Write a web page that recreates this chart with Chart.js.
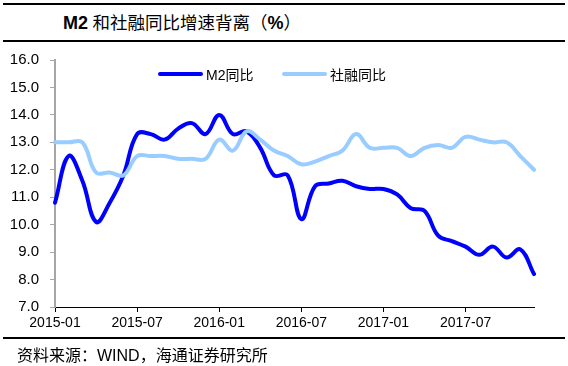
<!DOCTYPE html>
<html>
<head>
<meta charset="utf-8">
<script src="https://cdn.jsdelivr.net/npm/chart.js@4/dist/chart.umd.min.js"></script>
<style>
  html, body { margin: 0; padding: 0; background: #fff; }
  #wrap { position: relative; width: 568px; height: 366px; overflow: hidden; }
  .rule { position: absolute; left: 3px; width: 562px; height: 2px; background: #000; }
  #title { position: absolute; left: 63px; top: 10px; font-size: 17.5px; line-height: 24px; color: #000; white-space: nowrap; }
  #title .lat { font-family: "Liberation Sans", Arial, sans-serif; font-weight: bold; font-size: 18px; }
  #title .cjk { font-family: "Noto Sans CJK SC", sans-serif; font-weight: normal; }
  #source { position: absolute; left: 17px; top: 343px; font-size: 16px; line-height: 22px; color: #000; white-space: nowrap; font-family: "Noto Sans CJK SC", sans-serif; }
  #source .lat { font-family: "Liberation Sans", Arial, sans-serif; }
  #legend { position: absolute; top: 64px; left: 158px; height: 20px; font-size: 14px; line-height: 20px; white-space: nowrap; color: #000; }
  .li { position: absolute; top: 0; }
  .sw { position: absolute; top: 8px; width: 45px; height: 4px; border-radius: 2px; }
  .lt { position: absolute; left: 48px; top: 0; font-family: "Noto Sans CJK SC", sans-serif; }
  .lt .lat { font-family: "Liberation Sans", Arial, sans-serif; }
  canvas { position: absolute; left: 0; top: 0; }
</style>
</head>
<body>
<div id="wrap">
  <div class="rule" style="top:3px"></div>
  <div id="title"><span class="lat">M2</span> <span class="cjk">和社融同比增速背离（</span><span class="lat">%</span><span class="cjk">）</span></div>
  <div class="rule" style="top:40px"></div>
  <canvas id="c" width="568" height="366"></canvas>
  <div id="legend"></div>
  <div class="rule" style="top:337px"></div>
  <div id="source">资料来源：<span class="lat">WIND</span>，海通证券研究所</div>
</div>
<script>
// ---- data ----
const months = [
  '2015-01','2015-02','2015-03','2015-04','2015-05','2015-06','2015-07','2015-08','2015-09','2015-10','2015-11','2015-12',
  '2016-01','2016-02','2016-03','2016-04','2016-05','2016-06','2016-07','2016-08','2016-09','2016-10','2016-11','2016-12',
  '2017-01','2017-02','2017-03','2017-04','2017-05','2017-06','2017-07','2017-08','2017-09','2017-10','2017-11','2017-12'
];
const m2Yoy = [10.8,12.5,11.6,10.1,10.8,11.8,13.3,13.3,13.1,13.5,13.7,13.3,
               14.0,13.3,13.4,12.8,11.8,11.8,10.2,11.4,11.5,11.6,11.4,11.3,
               11.3,11.1,10.6,10.5,9.6,9.4,9.2,8.9,9.2,8.8,9.1,8.2];
const tsfYoy = [13.0,13.0,13.0,11.9,11.9,11.8,12.5,12.5,12.5,12.4,12.4,12.4,
                13.1,12.7,13.4,13.1,12.7,12.5,12.2,12.3,12.5,12.7,13.3,12.8,
                12.8,12.8,12.5,12.8,12.9,12.8,13.2,13.1,13.0,13.0,12.5,12.0];
const seriesNames = ['M2同比', '社融同比'];
const seriesColors = ['#0000ff', '#99ccff'];
const yTicks = { min: 7, max: 16, step: 1 };
const labelEvery = 6;

// ---- legend (html) ----
const legend = document.getElementById('legend');
const legendOffsets = [0, 124];
seriesNames.forEach((name, i) => {
  const item = document.createElement('div');
  item.className = 'li';
  item.style.left = legendOffsets[i] + 'px';
  const sw = document.createElement('div');
  sw.className = 'sw';
  sw.style.background = seriesColors[i];
  const t = document.createElement('div');
  t.className = 'lt';
  t.innerHTML = name.replace(/^M2/, '<span class="lat">M2</span>');
  item.appendChild(sw); item.appendChild(t);
  legend.appendChild(item);
});

// ---- chart ----
const font = { family: '"Liberation Sans", Arial, sans-serif', size: 14 };
new Chart(document.getElementById('c'), {
  type: 'line',
  data: {
    labels: months,
    datasets: [
      { label: seriesNames[0], data: m2Yoy, borderColor: seriesColors[0], backgroundColor: seriesColors[0],
        borderWidth: 4, pointRadius: 0, tension: 0.4, order: 2, borderCapStyle: 'round', borderJoinStyle: 'round' },
      { label: seriesNames[1], data: tsfYoy, borderColor: seriesColors[1], backgroundColor: seriesColors[1],
        borderWidth: 4, pointRadius: 0, tension: 0.4, order: 1, borderCapStyle: 'round', borderJoinStyle: 'round' }
    ]
  },
  options: {
    responsive: false,
    animation: false,
    devicePixelRatio: 1,
    layout: { padding: { left: 0, right: 34, top: 60, bottom: 29 } },
    plugins: { legend: { display: false }, tooltip: { enabled: false }, title: { display: false } },
    scales: {
      x: {
        type: 'category',
        offset: false,
        afterFit: s => { s.height = 30; },
        grid: {
          drawOnChartArea: false, drawTicks: true, tickLength: 5,
          color: ctx => (ctx.index % labelEvery === 0 ? '#000' : 'rgba(0,0,0,0)')
        },
        border: { color: '#000', width: 1 },
        ticks: {
          autoSkip: false, maxRotation: 0, minRotation: 0, padding: 3, color: '#000', font,
          callback: function (v, i) { return i % labelEvery === 0 ? this.getLabelForValue(v) : ''; }
        }
      },
      y: {
        min: yTicks.min, max: yTicks.max,
        afterFit: s => { s.width = 55; },
        grid: { drawOnChartArea: false, drawTicks: true, tickLength: 5, color: '#a6a6a6' },
        border: { color: '#a6a6a6', width: 2 },
        ticks: { stepSize: yTicks.step, padding: 11, color: '#000', font: { family: font.family, size: 15 },
                 callback: v => Number(v).toFixed(1) }
      }
    }
  }
});
</script>
</body>
</html>
